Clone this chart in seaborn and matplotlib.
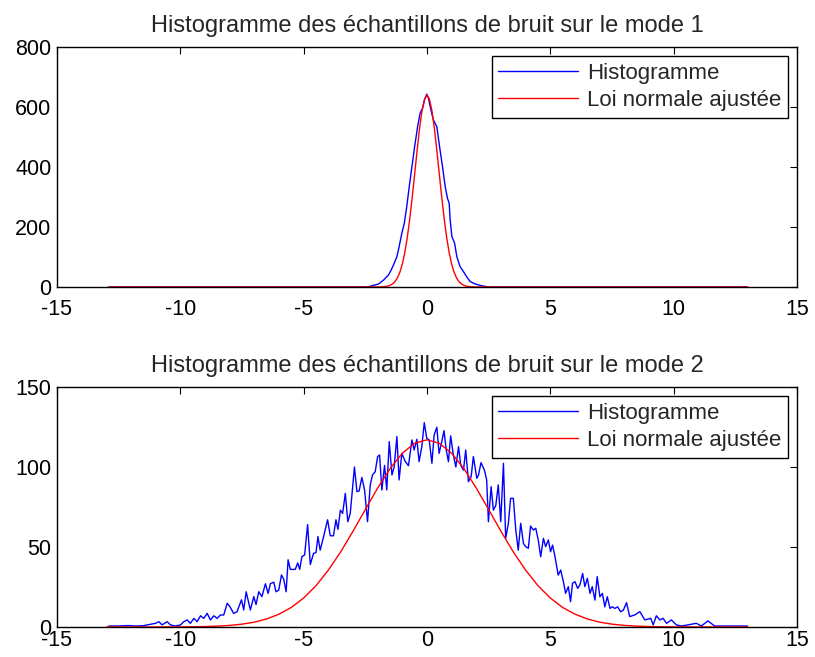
import matplotlib
matplotlib.use("Agg")
import pandas as pd
import seaborn as sns
import matplotlib.pyplot as plt

# ---- mode 1 : histogram (blue) and fitted normal (red)
m1_hist_x = [-12.9, -2.5, -2.37, -1.96, -1.76, -1.56, -1.45, -1.36, -1.22, -1.13, -1.02, -0.92,
             -0.82, -0.72, -0.61, -0.50, -0.38, -0.28, -0.18, -0.10, -0.01, 0.06, 0.16, 0.26,
             0.40, 0.51, 0.63, 0.74, 0.83, 0.90, 0.94, 1.01, 1.12, 1.21, 1.34, 1.48, 1.61,
             1.75, 1.95, 2.22, 2.49, 13.0]
m1_hist_y = [0, 0, 1, 10, 23, 40, 57, 73, 101, 134, 179, 212,
             268, 334, 401, 468, 534, 579, 596, 623, 643, 629, 590, 557,
             534, 468, 401, 334, 296, 279, 223, 168, 146, 101, 68, 51, 34,
             18, 10, 4, 0, 0]

m1_fit_x = [-12.9, -2.5, -2.0, -1.9, -1.8, -1.7, -1.6, -1.5, -1.4, -1.3, -1.2, -1.1, -1.0,
            -0.9, -0.8, -0.7, -0.6, -0.5, -0.4, -0.3, -0.2, -0.1, 0.0, 0.1, 0.2, 0.3, 0.4,
            0.5, 0.6, 0.7, 0.8, 0.9, 1.0, 1.1, 1.2, 1.3, 1.4, 1.5, 1.6, 1.7, 1.8, 1.9, 2.0,
            2.5, 13.0]
m1_fit_y = [0, 0, 0.1, 0.3, 0.7, 1.4, 2.8, 5.4, 9.9, 17.6, 30, 49, 76,
            114, 164, 226, 298, 376, 455, 529, 588, 626, 640, 626, 588, 529, 455,
            376, 298, 226, 164, 114, 76, 49, 30, 17.6, 9.9, 5.4, 2.8, 1.4, 0.7, 0.3, 0.1,
            0, 0]

# ---- mode 2 : histogram (blue) and fitted normal (red)
m2_hist_x = [-12.9, -12.49, -12.09, -11.82, -11.5, -11.21, -11.0, -10.87, -10.74, -10.53, -10.40,
             -10.2, -9.99, -9.86, -9.72, -9.59, -9.45, -9.32, -9.18, -9.05, -8.91, -8.78,
             -8.64, -8.51, -8.37, -8.24, -8.10, -8.0, -7.84, -7.70, -7.52, -7.43, -7.33,
             -7.16, -7.02, -6.93, -6.82, -6.69, -6.55, -6.44, -6.35, -6.21, -6.12, -6.01,
             -5.90, -5.81, -5.71, -5.63, -5.54, -5.34, -5.24, -5.16, -5.07, -4.96, -4.84,
             -4.73, -4.60, -4.50, -4.42, -4.33, -4.19, -4.03, -3.92, -3.79, -3.69, -3.61,
             -3.51, -3.42, -3.31, -3.21, -3.11, -2.94, -2.84, -2.75, -2.64, -2.53, -2.41,
             -2.30, -2.21, -2.10, -2.00, -1.92, -1.83, -1.72, -1.63, -1.53, -1.42, -1.33,
             -1.22, -1.13, -1.02, -0.88, -0.75, -0.61, -0.52, -0.41, -0.32, -0.21, -0.11,
             -0.01, 0.09, 0.20, 0.29, 0.40, 0.49, 0.60, 0.69, 0.78, 0.87, 0.96, 1.07, 1.17,
             1.28, 1.37, 1.48, 1.57, 1.68, 1.79, 1.88, 2.02, 2.09, 2.19, 2.33, 2.42, 2.49,
             2.60, 2.69, 2.79, 2.89, 2.99, 3.10, 3.19, 3.30, 3.39, 3.50, 3.60, 3.70, 3.80,
             3.91, 4.00, 4.11, 4.20, 4.31, 4.41, 4.51, 4.61, 4.72, 4.81, 4.92, 5.01, 5.09,
             5.19, 5.32, 5.42, 5.53, 5.62, 5.73, 5.82, 5.90, 6.00, 6.11, 6.20, 6.31, 6.40,
             6.50, 6.61, 6.70, 6.81, 6.90, 7.01, 7.11, 7.21, 7.31, 7.42, 7.51, 7.62, 7.73,
             7.85, 7.96, 8.09, 8.22, 8.42, 8.63, 8.83, 9.07, 9.17, 9.30, 9.44, 9.57, 9.71,
             9.91, 10.11, 10.31, 10.58, 10.92, 11.12, 11.39, 11.66, 12.2, 13.0]
m2_hist_y = [0.6, 0.6, 0.9, 0.6, 0.8, 1.7, 2.3, 3.3, 1.3, 3.3, 1.3,
             0.6, 1.3, 3.3, 4.4, 2.3, 5.4, 3.3, 7, 5.4, 8.5, 4.4,
             7, 5.4, 7.5, 7.5, 14.8, 13, 8.5, 9.5, 17, 10.6, 22,
             10.6, 19, 14, 22, 19, 27, 21, 27, 28, 22, 23,
             32.5, 30, 22, 42, 36, 36, 40, 36, 44, 45, 64,
             39, 46, 46.5, 56.5, 48, 56.5, 67, 57, 57, 67, 61,
             73, 71, 83.5, 65.8, 71, 100, 84.6, 85, 93.5, 85.6, 65.8,
             88.8, 95, 97, 106.5, 107.5, 85.6, 101, 85.6, 115.8, 95, 100,
             119, 91.9, 108.5, 103.3, 100.8, 116.9, 110.6, 117.3, 103.3, 112.7, 127.7,
             118, 116.9, 102.3, 120, 124.8, 108.5, 115.8, 122.7, 110.6, 103.3, 119.4, 107.5, 100,
             112.7, 101, 98, 110.6, 90.8, 93.9, 106.5, 92.9, 95, 102.7, 98, 91.9, 65.8,
             87.7, 73, 76, 88.8, 65.8, 102.3, 55.4, 64.8, 80.4, 80.4, 60.6, 48, 64.8,
             52.2, 50.2, 49.2, 63.1, 60.6, 61.7, 54.4, 43.9, 55.4, 50.2, 54.4, 47, 51.2,
             43.9, 32.4, 35.6, 28.3, 21, 25.2, 15.8, 27.3, 28.3, 24.1, 26.3, 33.5, 25.2,
             30.4, 21, 25.2, 16.8, 31.5, 18.9, 21, 12.6, 18.9, 11.6, 12.6, 11.6, 12.6,
             9.5, 10.5, 15.2, 6.5, 7.5, 9.6, 4.4, 5.4, 1.3, 7, 4.4, 5.4, 2.3,
             4.4, 1.3, 0.6, 1.3, 2.3, 0.6, 3.8, 0.6, 0.6, 0.6]

m2_fit_x = [-13.0, -12.5, -12.0, -11.5, -11.0, -10.5, -10.0, -9.5, -9.0, -8.5, -8.0, -7.5,
            -7.0, -6.5, -6.0, -5.5, -5.0, -4.5, -4.0, -3.5, -3.0, -2.5, -2.0, -1.5, -1.0,
            -0.5, 0.0, 0.5, 1.0, 1.5, 2.0, 2.5, 3.0, 3.5, 4.0, 4.5, 5.0, 5.5, 6.0, 6.5,
            7.0, 7.5, 8.0, 8.5, 9.0, 9.5, 10.0, 10.5, 11.0, 11.5, 12.0, 12.5, 13.0]
m2_fit_y = [0, 0, 0, 0, 0, 0.03, 0.06, 0.14, 0.28, 0.53, 0.98, 1.76,
            3.0, 5.0, 8.0, 12.2, 18.1, 25.8, 35.5, 46.9, 59.8, 73.4, 86.8, 98.9, 108.6,
            114.8, 117, 114.8, 108.6, 98.9, 86.8, 73.4, 59.8, 46.9, 35.5, 25.8, 18.1, 12.2, 8.0, 5.0,
            3.0, 1.76, 0.98, 0.53, 0.28, 0.14, 0.06, 0.03, 0, 0, 0, 0, 0]

titles = ["Histogramme des échantillons de bruit sur le mode 1",
          "Histogramme des échantillons de bruit sur le mode 2"]
labels = ["Histogramme", "Loi normale ajustée"]
x_ticks = [-15, -10, -5, 0, 5, 10, 15]
y_ticks = [[0, 200, 400, 600, 800], [0, 50, 100, 150]]
x_pads = [8.5, 2.5]

sns.set_style("white")
plt.rcParams["font.family"] = ["Liberation Sans", "DejaVu Sans"]

fig = plt.figure(figsize=(8.15, 6.57), dpi=100)
ax1 = fig.add_axes([0.0699, 0.5632, 0.908, 0.3653])
ax2 = fig.add_axes([0.0699, 0.0457, 0.908, 0.3653])

panels = [(ax1, m1_hist_x, m1_hist_y, m1_fit_x, m1_fit_y),
          (ax2, m2_hist_x, m2_hist_y, m2_fit_x, m2_fit_y)]

for i, (ax, hx, hy, fx, fy) in enumerate(panels):
    hist = pd.DataFrame({"x": hx, "y": hy})
    fit = pd.DataFrame({"x": fx, "y": fy})
    sns.lineplot(data=hist, x="x", y="y", ax=ax, color="#0000ff", linewidth=1.0,
                 sort=False, estimator=None, label=labels[0])
    sns.lineplot(data=fit, x="x", y="y", ax=ax, color="#ff0000", linewidth=1.0,
                 sort=False, estimator=None, label=labels[1])
    ax.set_xlim(-15, 15)
    ax.set_ylim(y_ticks[i][0], y_ticks[i][-1])
    ax.set_xticks(x_ticks)
    ax.set_yticks(y_ticks[i])
    ax.set_xticklabels([str(t) for t in x_ticks])
    ax.set_yticklabels([str(t) for t in y_ticks[i]])
    ax.set_xlabel("")
    ax.set_ylabel("")
    ax.set_title(titles[i], fontsize=17, pad=11)
    ax.tick_params(direction="in", length=5, width=0.8, top=True, right=True,
                   labelsize=15.5, colors="black")
    ax.tick_params(axis="x", pad=x_pads[i])
    ax.tick_params(axis="y", pad=4)
    for sp in ax.spines.values():
        sp.set_color("black")
        sp.set_linewidth(1.0)
    leg = ax.legend(loc="upper right", fontsize=16, handlelength=3.6, handletextpad=0.4,
                    fancybox=False, framealpha=1, edgecolor="black", borderaxespad=0.4,
                    borderpad=0.3, labelspacing=0.3)
    leg.get_frame().set_linewidth(1.0)

fig.savefig("out.png", dpi=100)
